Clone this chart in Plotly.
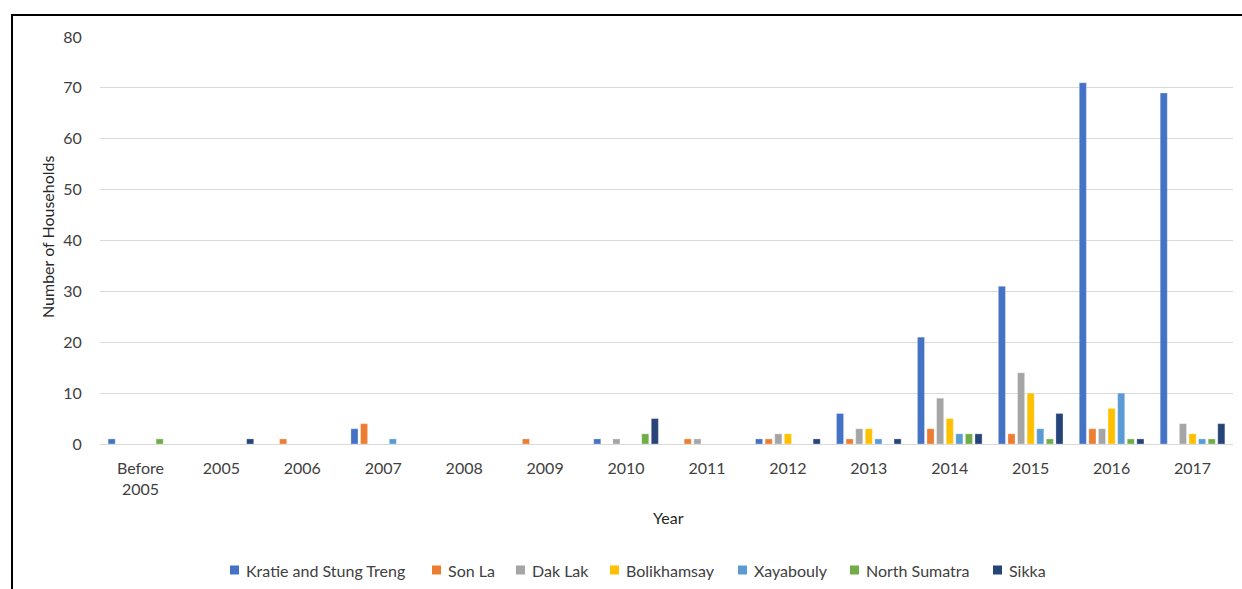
import plotly.graph_objects as go

# Households by year of first adoption, per study site
years = ["Before<br>2005", "2005", "2006", "2007", "2008", "2009", "2010",
         "2011", "2012", "2013", "2014", "2015", "2016", "2017"]

kratie_stung_treng = [1, 0, 0, 3, 0, 0, 1, 0, 1, 6, 21, 31, 71, 69]
son_la            = [0, 0, 1, 4, 0, 1, 0, 1, 1, 1, 3, 2, 3, 0]
dak_lak           = [0, 0, 0, 0, 0, 0, 1, 1, 2, 3, 9, 14, 3, 4]
bolikhamsay       = [0, 0, 0, 0, 0, 0, 0, 0, 2, 3, 5, 10, 7, 2]
xayabouly         = [0, 0, 0, 1, 0, 0, 0, 0, 0, 1, 2, 3, 10, 1]
north_sumatra     = [1, 0, 0, 0, 0, 0, 2, 0, 0, 0, 2, 1, 1, 1]
sikka             = [0, 1, 0, 0, 0, 0, 5, 0, 1, 1, 2, 6, 1, 4]

series = [
    ("Kratie and Stung Treng", kratie_stung_treng, "#4472C4"),
    ("Son La", son_la, "#ED7D31"),
    ("Dak Lak", dak_lak, "#A5A5A5"),
    ("Bolikhamsay", bolikhamsay, "#FFC000"),
    ("Xayabouly", xayabouly, "#5B9BD5"),
    ("North Sumatra", north_sumatra, "#70AD47"),
    ("Sikka", sikka, "#264478"),
]

# left edge (px) of each legend swatch along the bottom row
legend_x = [230, 432, 516, 610, 738, 850, 993]

FONT = "Lato"
TEXT = "#404040"

fig = go.Figure()
for name, vals, color in series:
    fig.add_trace(go.Bar(
        x=years, y=vals, name=name, showlegend=False,
        marker=dict(color=color, line=dict(color="rgba(255,255,255,0.6)", width=0.5)),
    ))

# plot area geometry (pixels)
W, H = 1242, 589
L, R, T, B = 100, 9, 37, 145
pw = W - L - R
ph = H - T - B

def px_x(x):
    return (x - L) / pw

def px_y(y):
    return (H - B - y) / ph

# legend row: square swatch + label
legend_shapes = []
legend_notes = []
ly = 570
for (name, _, color), lx in zip(series, legend_x):
    legend_shapes.append(dict(
        type="rect", xref="paper", yref="paper",
        x0=px_x(lx), x1=px_x(lx + 9), y0=px_y(ly + 4.5), y1=px_y(ly - 4.5),
        fillcolor=color, line=dict(width=0), layer="above"))
    legend_notes.append(dict(
        text=name, xref="paper", yref="paper", x=px_x(lx + 14), y=px_y(ly),
        xanchor="left", yanchor="middle", showarrow=False,
        font=dict(family=FONT, size=16, color=TEXT)))

fig.update_layout(
    width=W, height=H,
    margin=dict(l=L, r=R, t=T, b=B, autoexpand=False),
    paper_bgcolor="white", plot_bgcolor="white",
    barmode="group", bargap=0.17, bargroupgap=0.26,
    font=dict(family=FONT, size=16, color=TEXT),
    showlegend=False,
    xaxis=dict(
        showgrid=False, showline=False, zeroline=False,
        ticks="outside", ticklen=10, tickcolor="rgba(0,0,0,0)",
        tickfont=dict(family=FONT, size=16, color=TEXT),
        automargin=False, fixedrange=True,
    ),
    yaxis=dict(
        range=[0, 80], dtick=10, showgrid=True, gridcolor="#D9D9D9", gridwidth=1,
        zeroline=True, zerolinecolor="#D9D9D9", zerolinewidth=1,
        showline=False, ticks="outside", ticklen=14, tickcolor="rgba(0,0,0,0)",
        tickfont=dict(family=FONT, size=16, color=TEXT),
        automargin=False, fixedrange=True,
    ),
    annotations=[
        dict(text="Year", xref="paper", yref="paper", x=px_x(668), y=px_y(517),
             xanchor="center", yanchor="middle", showarrow=False,
             font=dict(family=FONT, size=16, color="#262626")),
        dict(text="Number of Households", xref="paper", yref="paper",
             x=px_x(48), y=px_y(237), xanchor="center", yanchor="middle",
             textangle=-90, showarrow=False,
             font=dict(family=FONT, size=16, color="#262626")),
    ] + legend_notes,
    shapes=[
        dict(type="rect", xref="paper", yref="paper",
             x0=px_x(12), x1=px_x(1260), y0=px_y(620), y1=px_y(15),
             line=dict(color="black", width=2), layer="above"),
    ] + legend_shapes,
)

fig.write_html("out.html")
